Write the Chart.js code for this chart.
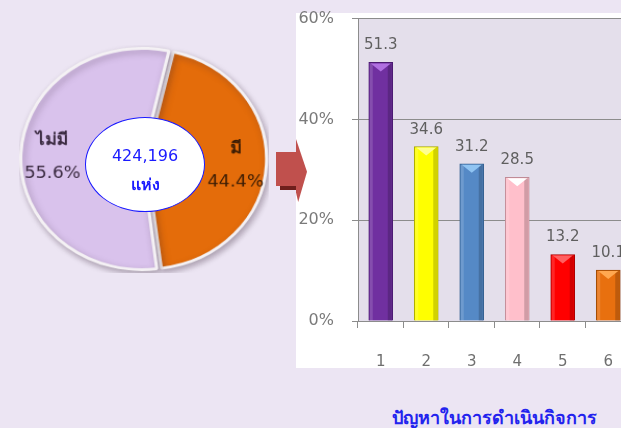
<!DOCTYPE html>
<html>
<head>
<meta charset="utf-8">
<script src="https://cdn.jsdelivr.net/npm/chart.js@4/dist/chart.umd.min.js"></script>
<style>
  html, body { margin: 0; padding: 0; }
  body { width: 621px; height: 428px; overflow: hidden; position: relative; background: #ECE5F3;
         font-family: 'DejaVu Sans', 'Noto Sans', sans-serif; }
  #pieWrap { position: absolute; left: 24px; top: 39px; width: 240px; height: 240px; transform: scale(1.04, 0.95); }
  #panel { position: absolute; left: 296px; top: 13px; width: 325px; height: 355px; background: #fff; }
  #barWrap { position: absolute; left: 296px; top: -9px; width: 342px; height: 389px; }
  #ellipse { position: absolute; left: 85px; top: 117px; width: 118px; height: 93px; background: #fff;
             border: 1px solid #1a1aff; border-radius: 50%; color: #1a1aff; text-align: center; }
  #ellipse .n { position: absolute; left: 0; right: 0; top: 28px; font-size: 16px; line-height: 20px; }
  #ellipse .u { position: absolute; left: 0; right: 0; top: 56px; font-size: 16px; line-height: 22px; font-weight: bold; }
  #arrowBody { position: absolute; left: 276px; top: 152px; width: 21px; height: 34px; background: #C0504D; }
  #arrowShadow { position: absolute; left: 280px; top: 186px; width: 17px; height: 4px; background: #6e1f1c; }
  #arrowHead { position: absolute; left: 296px; top: 139px; width: 11px; height: 63px; background: #C0504D;
               clip-path: polygon(0 0, 100% 52%, 20% 100%, 0 85%); }
  #title { position: absolute; left: 360px; width: 268px; top: 406px; text-align: center; color: #2323ee;
           font-size: 18px; font-weight: bold; line-height: 24px; }
</style>
</head>
<body>
<div id="pieWrap"><canvas id="pieChart"></canvas></div>
<div id="ellipse"><div class="n" id="totalText"></div><div class="u">แห่ง</div></div>
<div id="panel"></div>
<div id="barWrap"><canvas id="barChart"></canvas></div>
<div id="arrowBody"></div>
<div id="arrowShadow"></div>
<div id="arrowHead"></div>
<div id="title">ปัญหาในการดำเนินกิจการ</div>

<script>
// pie: has / has not
const pieLabels = ['มี', 'ไม่มี'];
const pieValues = [44.4, 55.6];
const pieColors = ['#E46C0A', '#D9C2EC'];
const pieTextColors = ['#3a1c05', '#3a2a40'];
const totalCount = 424196;

// bars: problems in running the business
const barLabels = ['1', '2', '3', '4', '5', '6'];
const barValues = [51.3, 34.6, 31.2, 28.5, 13.2, 10.1];
const barColors = ['#7030A0', '#FFFF00', '#5589C6', '#FFBFCB', '#FF0000', '#E8700F'];
const barEdges = ['#4a1a70', '#a8a800', '#35608f', '#c08b96', '#a80000', '#9c4a05'];
const barTops = ['#B070E0', '#FFFF90', '#90C4F2', '#FFFFFF', '#FF6060', '#FFA850'];
const yTicks = [0, 20, 40, 60];

document.getElementById('totalText').textContent = totalCount.toLocaleString('en-US');

const pieShadow = {
    id: 'pieShadow',
    beforeDatasetsDraw(chart) {
        const ctx = chart.ctx;
        ctx.save();
        ctx.shadowColor = 'rgba(60,40,60,0.35)';
        ctx.shadowBlur = 6;
        ctx.shadowOffsetX = 2;
        ctx.shadowOffsetY = 3;
    },
    afterDatasetsDraw(chart) {
        const ctx = chart.ctx;
        ctx.restore();
        const meta = chart.getDatasetMeta(0);
        ctx.save();
        ctx.textAlign = 'center';
        ctx.textBaseline = 'middle';
        meta.data.forEach((arc, i) => {
            const p = arc.getProps(['x', 'y', 'startAngle', 'endAngle', 'outerRadius']);
            const mid = (p.startAngle + p.endAngle) / 2;
            const d = p.outerRadius * 0.70 + 8;
            const cx = p.x + Math.cos(mid) * d;
            const cy = p.y + Math.sin(mid) * d;
            ctx.fillStyle = pieTextColors[i];
            ctx.font = 'bold 17px "DejaVu Sans", "Noto Sans", sans-serif';
            ctx.fillText(pieLabels[i], cx, cy - 15);
            ctx.font = '17px "DejaVu Sans", sans-serif';
            ctx.fillText(pieValues[i].toFixed(1) + '%', cx, cy + 20);
        });
        ctx.restore();
    }
};

new Chart(document.getElementById('pieChart').getContext('2d'), {
    type: 'pie',
    data: {
        labels: pieLabels,
        datasets: [{
            data: pieValues,
            backgroundColor: pieColors,
            borderColor: '#f4f1f4',
            borderWidth: 3,
            offset: 8
        }]
    },
    options: {
        responsive: true,
        maintainAspectRatio: false,
        animation: false,
        rotation: 13,
        plugins: { legend: { display: false }, tooltip: { enabled: false } }
    },
    plugins: [pieShadow]
});

const plotBg = {
    id: 'plotBg',
    beforeDraw(chart) {
        const a = chart.chartArea;
        chart.ctx.save();
        chart.ctx.fillStyle = '#E4DFEB';
        chart.ctx.fillRect(a.left, a.top, a.right - a.left, a.bottom - a.top);
        chart.ctx.restore();
    }
};

const barBevel = {
    id: 'barBevel',
    afterDatasetsDraw(chart) {
        const ctx = chart.ctx;
        const meta = chart.getDatasetMeta(0);
        ctx.save();
        meta.data.forEach((bar, i) => {
            const p = bar.getProps(['x', 'y', 'width', 'base']);
            const l = p.x - p.width / 2, r = p.x + p.width / 2;
            // darker right side
            ctx.fillStyle = 'rgba(0,0,0,0.18)';
            ctx.fillRect(r - 5, p.y + 1, 4, p.base - p.y - 1);
            // lighter left side
            ctx.fillStyle = 'rgba(255,255,255,0.15)';
            ctx.fillRect(l + 1, p.y + 1, 3, p.base - p.y - 1);
            // top wedge
            ctx.fillStyle = barTops[i];
            ctx.beginPath();
            ctx.moveTo(l + 2, p.y + 1);
            ctx.lineTo(r - 2, p.y + 1);
            ctx.lineTo(p.x, p.y + 9);
            ctx.closePath();
            ctx.fill();
            // value above
            ctx.fillStyle = '#5f5f5f';
            ctx.font = '15px "DejaVu Sans", sans-serif';
            ctx.textAlign = 'center';
            ctx.textBaseline = 'middle';
            ctx.fillText(barValues[i].toFixed(1), p.x, p.y - 17);
        });
        ctx.restore();
    }
};

new Chart(document.getElementById('barChart').getContext('2d'), {
    type: 'bar',
    data: {
        labels: barLabels,
        datasets: [{
            data: barValues,
            backgroundColor: barColors,
            borderColor: barEdges,
            borderWidth: 1,
            barThickness: 24
        }]
    },
    options: {
        responsive: true,
        maintainAspectRatio: false,
        animation: false,
        layout: { padding: { top: 9, left: 0, right: 0, bottom: 0 } },
        plugins: { legend: { display: false }, tooltip: { enabled: false } },
        scales: {
            x: {
                grid: { drawOnChartArea: false, tickLength: 7, color: '#8c8c8c' },
                border: { color: '#8c8c8c' },
                ticks: { color: '#6f6f6f', padding: 25, font: { size: 15, family: 'DejaVu Sans' } },
                afterFit(scale) { scale.height = 59; }
            },
            y: {
                min: yTicks[0],
                max: yTicks[yTicks.length - 1],
                afterBuildTicks(scale) { scale.ticks = yTicks.map(v => ({ value: v })); },
                grid: { tickLength: 6, color: '#8c8c8c' },
                border: { color: '#8c8c8c' },
                ticks: { color: '#7a7a7a', padding: 18, font: { size: 16, family: 'DejaVu Sans' },
                         callback: v => v + '%' },
                afterFit(scale) { scale.width = 62; }
            }
        }
    },
    plugins: [plotBg, barBevel]
});
</script>
</body>
</html>
